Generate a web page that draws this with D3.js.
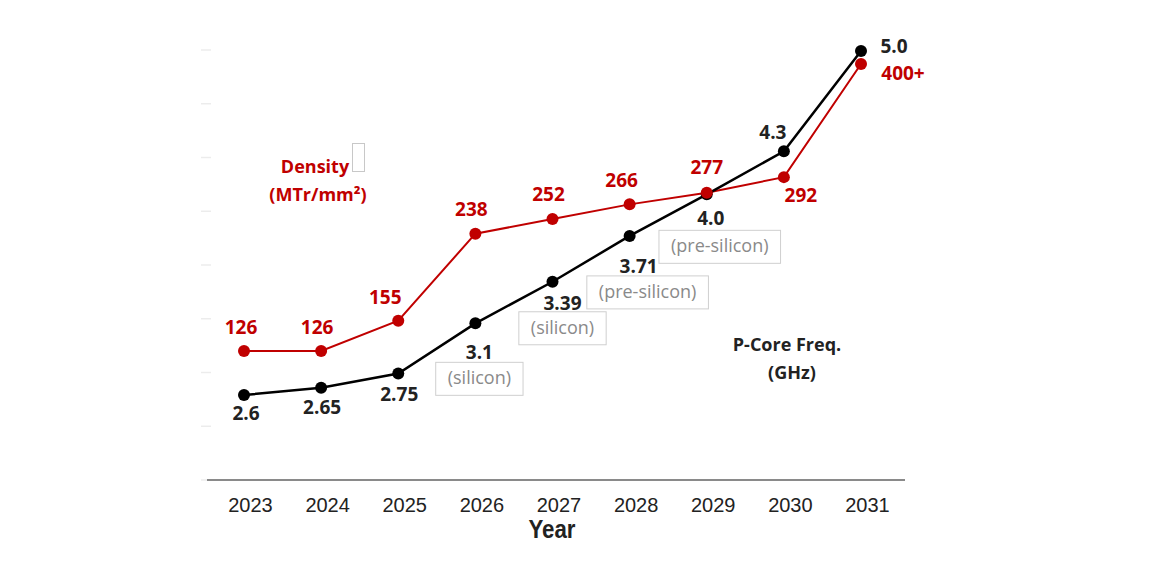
<!DOCTYPE html>
<html><head><meta charset="utf-8">
<script src="https://cdn.jsdelivr.net/npm/d3@7/dist/d3.min.js"></script>
<style>body{margin:0;background:#fff}svg{display:block}</style>
</head><body>
<svg id="c" width="1163" height="584"></svg>
<script>
const years = ["2023","2024","2025","2026","2027","2028","2029","2030","2031"];
const density = [126,126,155,238,252,266,277,292,400];
const densityLabels = ["126","126","155","238","252","266","277","292","400+"];
const freq = [2.6,2.65,2.75,3.1,3.39,3.71,4.0,4.3,5.0];
const freqLabels = ["2.6","2.65","2.75","3.1","3.39","3.71","4.0","4.3","5.0"];
const notes = ["","","","(silicon)","(silicon)","(pre-silicon)","(pre-silicon)","",""];
const faintTicks = [0,50,100,150,200,250,300,350,400];

const svg = d3.select("#c");
const x = d3.scalePoint().domain(years).range([244,861]);
const yD = d3.scaleLinear().domain([0,400]).range([483,64]);
const yF = d3.scaleLinear().domain([2,5]).range([481,51]);
const yTick = d3.scaleLinear().domain([0,400]).range([480,50]);
const RED = "#c00000";

// faint left ticks
svg.append("g").selectAll("line").data(faintTicks).join("line")
  .attr("x1",201).attr("x2",211).attr("y1",d=>yTick(d)).attr("y2",d=>yTick(d))
  .attr("stroke","#ececec").attr("stroke-width",1.5);

// x axis
const xAxis = d3.axisBottom(x).tickSize(0).tickPadding(0);
const gx = svg.append("g").attr("transform","translate(0,480)").call(xAxis);
gx.select(".domain").remove();
gx.append("line").attr("x1",207).attr("x2",905).attr("stroke","#8a8a8a").attr("stroke-width",2);
gx.selectAll(".tick text").attr("dy",null).attr("y",32).attr("x",6)
  .attr("font-family","Liberation Sans, Arial, sans-serif").attr("font-size",20).attr("fill","#222");
svg.append("text").attr("x",552).attr("y",538).attr("text-anchor","middle")
  .attr("font-family","Liberation Sans, Arial, sans-serif").attr("font-weight","bold")
  .attr("font-size",25).attr("fill","#222").attr("transform","translate(552,0) scale(0.89,1) translate(-552,0)")
  .text("Year");

const fam = "Open Sans, Noto Sans, sans-serif";

// density line
svg.append("path").datum(density)
  .attr("d", d3.line().x((d,i)=>x(years[i])).y(d=>yD(d)))
  .attr("fill","none").attr("stroke",RED).attr("stroke-width",2);
// freq line
svg.append("path").datum(freq)
  .attr("d", d3.line().x((d,i)=>x(years[i])).y(d=>yF(d)))
  .attr("fill","none").attr("stroke","#000").attr("stroke-width",2.5);

svg.append("g").selectAll("circle").data(freq).join("circle")
  .attr("cx",(d,i)=>x(years[i])).attr("cy",d=>yF(d)).attr("r",6).attr("fill","#000");
svg.append("g").selectAll("circle").data(density).join("circle")
  .attr("cx",(d,i)=>x(years[i])).attr("cy",d=>yD(d)).attr("r",6).attr("fill",RED);

// density labels (offsets relative to point)
const dOff = [[-3,-17],[-4,-17],[-13,-17],[-4,-18],[-4,-18],[-8,-17],[0,-19],[17,25],[42,16]];
svg.append("g").selectAll("text").data(density).join("text")
  .attr("x",(d,i)=>x(years[i])+dOff[i][0]).attr("y",(d,i)=>yD(d)+dOff[i][1])
  .attr("text-anchor","middle").attr("font-family",fam).attr("font-weight","bold")
  .attr("font-size",19).attr("fill",RED).text((d,i)=>densityLabels[i]);

// freq labels
const fOff = [[2,25],[1,26],[1,27],[4,36],[10,28],[9,37],[4,31],[-11,-12],[33,2]];
svg.append("g").selectAll("text").data(freq).join("text")
  .attr("x",(d,i)=>x(years[i])+fOff[i][0]).attr("y",(d,i)=>yF(d)+fOff[i][1])
  .attr("text-anchor","middle").attr("font-family",fam).attr("font-weight","bold")
  .attr("font-size",19).attr("fill","#222").text((d,i)=>freqLabels[i]);

// note boxes
const nOff = [null,null,null,[4,55],[10,46],[18,56],[13,52],null,null];
const ng = svg.append("g");
notes.forEach((n,i)=>{
  if(!n) return;
  const cx = x(years[i])+nOff[i][0], cy = yF(freq[i])+nOff[i][1];
  const t = ng.append("text").attr("x",cx).attr("y",cy+6).attr("text-anchor","middle")
    .attr("font-family",fam).attr("font-size",18).attr("fill","#8a8a8a").text(n);
  const bb = t.node().getBBox();
  ng.insert("rect","text").attr("x",bb.x-12).attr("y",cy-16).attr("width",bb.width+24).attr("height",33)
    .attr("fill","#fff").attr("stroke","#cfcfcf").attr("stroke-width",1);
});

// series titles
svg.append("text").attr("x",315).attr("y",173).attr("text-anchor","middle")
  .attr("font-family",fam).attr("font-weight","bold").attr("font-size",18).attr("fill",RED).text("Density");
svg.append("text").attr("x",318).attr("y",201).attr("text-anchor","middle")
  .attr("font-family",fam).attr("font-weight","bold").attr("font-size",18).attr("fill",RED)
  .text("(MTr/mm²)");
svg.append("rect").attr("x",352.5).attr("y",143.5).attr("width",12).attr("height",28)
  .attr("fill","none").attr("stroke","#c8c8c8").attr("stroke-width",1);
svg.append("text").attr("x",787).attr("y",351).attr("text-anchor","middle")
  .attr("font-family",fam).attr("font-weight","bold").attr("font-size",18).attr("fill","#222").text("P-Core Freq.");
svg.append("text").attr("x",792).attr("y",379).attr("text-anchor","middle")
  .attr("font-family",fam).attr("font-weight","bold").attr("font-size",18).attr("fill","#222").text("(GHz)");
</script>
</body></html>
